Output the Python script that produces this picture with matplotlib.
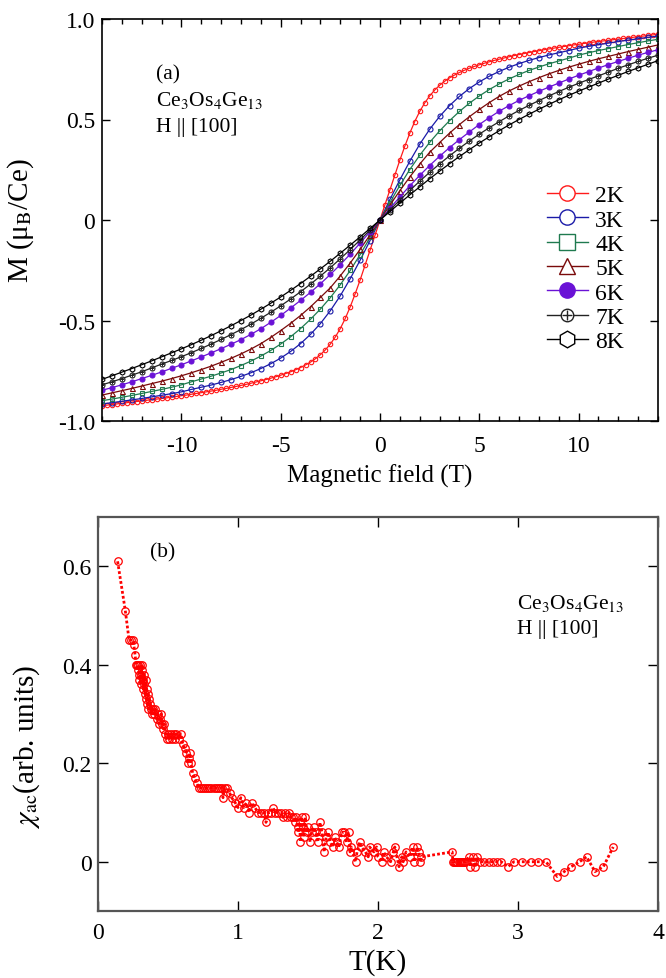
import matplotlib
matplotlib.use('Agg')
import matplotlib.pyplot as plt
from matplotlib.lines import Line2D
from matplotlib.ticker import MultipleLocator
import numpy as np

# ---------------- data: panel (a) M(H) ----------------
# field sweep -14 T .. 14 T (2K every 0.25 T, others every 0.5 T)
M_2K = [-0.924, -0.921, -0.918, -0.915, -0.912, -0.909, -0.906, -0.903, -0.900, -0.897,
        -0.894, -0.891, -0.888, -0.885, -0.881, -0.878, -0.874, -0.871, -0.867, -0.863,
        -0.859, -0.855, -0.851, -0.847, -0.842, -0.838, -0.833, -0.828, -0.823, -0.818,
        -0.812, -0.806, -0.800, -0.794, -0.787, -0.780, -0.772, -0.764, -0.755, -0.745,
        -0.734, -0.721, -0.707, -0.690, -0.670, -0.646, -0.617, -0.582, -0.540, -0.490,
        -0.432, -0.367, -0.298, -0.224, -0.150, -0.076,
        0.000, 0.076, 0.150, 0.224, 0.298, 0.367, 0.432, 0.490, 0.540, 0.582,
        0.617, 0.646, 0.670, 0.690, 0.707, 0.721, 0.734, 0.745, 0.755, 0.764,
        0.772, 0.780, 0.787, 0.794, 0.800, 0.806, 0.812, 0.818, 0.823, 0.828,
        0.833, 0.838, 0.842, 0.847, 0.851, 0.855, 0.859, 0.863, 0.867, 0.871,
        0.874, 0.878, 0.881, 0.885, 0.888, 0.891, 0.894, 0.897, 0.900, 0.903,
        0.906, 0.909, 0.912, 0.915, 0.918, 0.921, 0.924]
M_3K = [-0.915, -0.909, -0.902, -0.895, -0.888, -0.880, -0.872, -0.864, -0.855, -0.843,
        -0.832, -0.821, -0.808, -0.794, -0.778, -0.760, -0.739, -0.715, -0.687, -0.654,
        -0.615, -0.569, -0.515, -0.451, -0.377, -0.292, -0.200, -0.102,
        0.000, 0.102, 0.200, 0.292, 0.377, 0.451, 0.515, 0.569, 0.615, 0.654,
        0.687, 0.715, 0.739, 0.760, 0.778, 0.794, 0.808, 0.821, 0.832, 0.843,
        0.855, 0.864, 0.872, 0.880, 0.888, 0.895, 0.902, 0.909, 0.915]
M_4K = [-0.899, -0.891, -0.882, -0.873, -0.863, -0.853, -0.843, -0.832, -0.820, -0.805,
        -0.791, -0.777, -0.761, -0.744, -0.724, -0.702, -0.677, -0.649, -0.617, -0.581,
        -0.540, -0.494, -0.443, -0.386, -0.322, -0.251, -0.172, -0.087,
        0.000, 0.087, 0.172, 0.251, 0.322, 0.386, 0.443, 0.494, 0.540, 0.581,
        0.617, 0.649, 0.677, 0.702, 0.724, 0.744, 0.761, 0.777, 0.791, 0.805,
        0.820, 0.832, 0.843, 0.853, 0.863, 0.873, 0.882, 0.891, 0.899]
M_5K = [-0.871, -0.860, -0.849, -0.838, -0.826, -0.814, -0.802, -0.789, -0.775, -0.760,
        -0.744, -0.727, -0.708, -0.688, -0.666, -0.642, -0.615, -0.584, -0.550, -0.514,
        -0.475, -0.432, -0.385, -0.337, -0.278, -0.214, -0.146, -0.074,
        0.000, 0.074, 0.146, 0.214, 0.278, 0.337, 0.385, 0.432, 0.475, 0.514,
        0.550, 0.584, 0.615, 0.642, 0.666, 0.688, 0.708, 0.727, 0.744, 0.760,
        0.775, 0.789, 0.802, 0.814, 0.826, 0.838, 0.849, 0.860, 0.871]
M_6K = [-0.847, -0.834, -0.820, -0.805, -0.789, -0.773, -0.756, -0.738, -0.720, -0.701,
        -0.681, -0.661, -0.640, -0.618, -0.595, -0.569, -0.541, -0.509, -0.475, -0.438,
        -0.400, -0.360, -0.317, -0.271, -0.222, -0.170, -0.115, -0.058,
        0.000, 0.058, 0.115, 0.170, 0.222, 0.271, 0.317, 0.360, 0.400, 0.438,
        0.475, 0.509, 0.541, 0.569, 0.595, 0.618, 0.640, 0.661, 0.681, 0.701,
        0.720, 0.738, 0.756, 0.773, 0.789, 0.805, 0.820, 0.834, 0.847]
M_7K = [-0.820, -0.805, -0.789, -0.772, -0.755, -0.736, -0.717, -0.699, -0.680, -0.660,
        -0.639, -0.617, -0.594, -0.570, -0.545, -0.518, -0.489, -0.459, -0.427, -0.393,
        -0.357, -0.319, -0.279, -0.237, -0.193, -0.147, -0.099, -0.050,
        0.000, 0.050, 0.099, 0.147, 0.193, 0.237, 0.279, 0.319, 0.357, 0.393,
        0.427, 0.459, 0.489, 0.518, 0.545, 0.570, 0.594, 0.617, 0.639, 0.660,
        0.680, 0.699, 0.717, 0.736, 0.755, 0.772, 0.789, 0.805, 0.820]
M_8K = [-0.793, -0.775, -0.757, -0.739, -0.720, -0.701, -0.681, -0.661, -0.641, -0.620,
        -0.598, -0.575, -0.551, -0.526, -0.500, -0.473, -0.444, -0.414, -0.383, -0.350,
        -0.316, -0.280, -0.243, -0.205, -0.165, -0.125, -0.084, -0.042,
        0.000, 0.042, 0.084, 0.125, 0.165, 0.205, 0.243, 0.280, 0.316, 0.350,
        0.383, 0.414, 0.444, 0.473, 0.500, 0.526, 0.551, 0.575, 0.598, 0.620,
        0.641, 0.661, 0.681, 0.701, 0.720, 0.739, 0.757, 0.775, 0.793]

labels_a = ['2K', '3K', '4K', '5K', '6K', '7K', '8K']
xticks_a = [-10, -5, 0, 5, 10]
xticklabels_a = ['-10', '-5', '0', '5', '10']
yticks_a = [-1.0, -0.5, 0.0, 0.5, 1.0]
yticklabels_a = ['-1.0', '-0.5', '0', '0.5', '1.0']

# ---------------- data: panel (b) chi_ac(T) ----------------
T_ac = [0.140, 0.195, 0.222, 0.238, 0.248, 0.256, 0.265, 0.272, 0.278, 0.284,
        0.288, 0.292, 0.296, 0.300, 0.304, 0.308, 0.312, 0.316, 0.320, 0.324,
        0.328, 0.332, 0.336, 0.340, 0.344, 0.348, 0.352, 0.356, 0.360, 0.366,
        0.372, 0.378, 0.384, 0.392, 0.400, 0.410, 0.418, 0.426, 0.434, 0.442,
        0.450, 0.458, 0.466, 0.474, 0.482, 0.490, 0.500, 0.510, 0.520, 0.530,
        0.540, 0.550, 0.560, 0.575, 0.590, 0.605, 0.620, 0.632, 0.640, 0.648,
        0.656, 0.664, 0.676, 0.690, 0.705, 0.720, 0.735, 0.750, 0.765, 0.780,
        0.795, 0.810, 0.825, 0.840, 0.855, 0.870, 0.885, 0.893, 0.905, 0.920,
        0.940, 0.955, 0.980, 1.000, 1.020, 1.040, 1.060, 1.080, 1.100, 1.120,
        1.145, 1.165, 1.185, 1.200, 1.215, 1.235, 1.250, 1.265, 1.285, 1.305,
        1.320, 1.335, 1.350, 1.365, 1.380, 1.395, 1.405, 1.415, 1.425, 1.430,
        1.440, 1.445, 1.455, 1.465, 1.470, 1.480, 1.490, 1.500, 1.515, 1.525,
        1.540, 1.555, 1.570, 1.585, 1.600, 1.615, 1.630, 1.645, 1.660, 1.675,
        1.690, 1.705, 1.720, 1.740, 1.760, 1.775, 1.790, 1.800, 1.810, 1.840,
        1.850, 1.870, 1.880, 1.910, 1.930, 1.940, 1.970, 1.990, 2.000, 2.030,
        2.040, 2.060, 2.090, 2.110, 2.120, 2.150, 2.170, 2.180, 2.200, 2.230,
        2.250, 2.260, 2.280, 2.290, 2.300, 2.310, 2.530, 2.535, 2.543, 2.551,
        2.559, 2.567, 2.575, 2.583, 2.591, 2.599, 2.607, 2.615, 2.623, 2.650,
        2.660, 2.675, 2.685, 2.695, 2.705, 2.730, 2.760, 2.790, 2.820, 2.850,
        2.880, 2.930, 2.970, 3.030, 3.090, 3.140, 3.200, 3.280, 3.330, 3.380,
        3.440, 3.490, 3.550, 3.610, 3.680]
chi_ac = [0.61, 0.51, 0.45, 0.45, 0.45, 0.44, 0.42, 0.40, 0.40, 0.39,
          0.40, 0.38, 0.37, 0.40, 0.36, 0.38, 0.39, 0.40, 0.37, 0.35,
          0.38, 0.36, 0.34, 0.37, 0.33, 0.35, 0.32, 0.34, 0.31, 0.33,
          0.32, 0.31, 0.30, 0.31, 0.30, 0.31, 0.29, 0.30, 0.28, 0.29,
          0.30, 0.28, 0.27, 0.28, 0.26, 0.25, 0.26, 0.25, 0.26, 0.25,
          0.26, 0.25, 0.26, 0.25, 0.26, 0.24, 0.23, 0.22, 0.20, 0.21,
          0.22, 0.20, 0.18, 0.17, 0.16, 0.15, 0.15, 0.15, 0.15, 0.15,
          0.15, 0.15, 0.15, 0.15, 0.15, 0.15, 0.15, 0.13, 0.15, 0.15,
          0.14, 0.13, 0.12, 0.11, 0.13, 0.11, 0.12, 0.10, 0.12, 0.11,
          0.10, 0.10, 0.10, 0.08, 0.10, 0.10, 0.11, 0.10, 0.10, 0.10,
          0.09, 0.10, 0.09, 0.10, 0.09, 0.09, 0.08, 0.09, 0.07, 0.06,
          0.08, 0.04, 0.09, 0.07, 0.05, 0.09, 0.06, 0.07, 0.04, 0.06,
          0.07, 0.06, 0.04, 0.08, 0.06, 0.02, 0.05, 0.06, 0.04, 0.03,
          0.05, 0.04, 0.03, 0.06, 0.06, 0.04, 0.06, 0.02, 0.03, 0.00,
          0.02, 0.04, 0.03, 0.02, 0.01, 0.03, 0.02, 0.03, 0.01, 0.00,
          0.02, 0.01, 0.00, 0.02, 0.03, -0.01, 0.01, 0.00, 0.02, 0.01,
          0.03, 0.00, 0.03, 0.02, 0.00, 0.01, 0.02, 0.00, 0.00, 0.00,
          0.00, 0.00, 0.00, 0.00, 0.00, 0.00, 0.00, 0.00, 0.00, 0.01,
          -0.01, 0.01, 0.00, -0.01, 0.01, 0.00, 0.00, 0.00, 0.00, 0.00,
          0.00, -0.01, 0.00, 0.00, 0.00, 0.00, 0.00, -0.03, -0.02, -0.01,
          0.00, 0.01, -0.02, -0.01, 0.03]

xticks_b = [0, 1, 2, 3, 4]
yticks_b = [0.0, 0.2, 0.4, 0.6]
yticklabels_b = ['0', '0.2', '0.4', '0.6']

# ---------------- style ----------------
plt.rcParams['font.family'] = ['Liberation Serif', 'DejaVu Serif']
plt.rcParams['mathtext.fontset'] = 'stix'

fig = plt.figure(figsize=(6.66, 9.79), dpi=100)
ax1 = fig.add_axes([102 / 666, 1 - 422 / 979, 556 / 666, 402 / 979])
ax2 = fig.add_axes([98 / 666, 1 - 912 / 979, 560 / 666, 394 / 979])

styles = [
    (M_2K, '#ff1a1a', 'o', 'none', 3.2, 11),
    (M_3K, '#1a1aa8', 'o', 'none', 3.6, 11),
    (M_4K, '#1f7a4f', 's', 'none', 3.4, 11),
    (M_5K, '#7a0a0a', '^', 'none', 3.6, 11),
    (M_6K, '#6a12d6', 'o', '#6a12d6', 3.6, 11),
    (M_7K, '#222222', 'o', 'none', 3.6, 9),
    (M_8K, '#000000', 'h', 'none', 3.8, 12),
]

for M, c, mk, mfc, ms, lms in styles:
    H = np.linspace(-14, 14, len(M))
    ax1.plot(H, M, color=c, lw=0.9, marker=mk, ms=ms, mfc=mfc, mec=c, mew=0.8)
    if M is M_7K:
        ax1.plot(H, M, ls='none', marker='+', ms=3.0, color=c, mew=0.7)

# legend with large symbols
leg_handles = []
for (M, c, mk, mfc, ms, lms), lab in zip(styles, labels_a):
    h = Line2D([], [], color=c, lw=1.0, marker=mk, ms=lms,
               mfc='white' if mfc == 'none' else mfc, mec=c, mew=1.0)
    if lab == '7K':
        h = (h, Line2D([], [], ls='none', marker='+', ms=6.5, color=c, mew=1.0))
    leg_handles.append(h)
ax1.legend(leg_handles, labels_a, loc='upper left', bbox_to_anchor=(0.800, 0.588),
           frameon=False, fontsize=17, handlelength=1.75, handletextpad=0.3,
           labelspacing=0.12, borderpad=0, borderaxespad=0)

ax1.set_xlim(-14, 14)
ax1.set_ylim(-1.0, 1.0)
ax1.set_xticks(xticks_a)
ax1.set_xticklabels(xticklabels_a)
ax1.xaxis.set_minor_locator(MultipleLocator(1))
ax1.set_yticks(yticks_a)
ax1.set_yticklabels(yticklabels_a)
ax1.tick_params(which='both', direction='in', top=True, right=True, labelsize=17, width=1.0)
ax1.tick_params(axis='x', which='major', length=6, pad=10)
ax1.tick_params(axis='y', which='major', length=6, pad=5)
ax1.tick_params(which='minor', length=3.5)
for s in ax1.spines.values():
    s.set_linewidth(1.2)

ax1.set_xlabel('Magnetic field (T)', fontsize=18)
ax1.xaxis.set_label_coords(0.5, -0.107)
ax1.set_ylabel('M (μ$_{\\rm B}$/Ce)', fontsize=21)
ax1.yaxis.set_label_coords(-0.118, 0.5)

ax1.text(0.097, 0.863, '(a)', transform=ax1.transAxes, fontsize=15.5, va='center', ha='left')
ax1.text(0.097, 0.800, r'Ce$_3$Os$_4$Ge$_{13}$', transform=ax1.transAxes, fontsize=15.5,
         va='center', ha='left')
ax1.text(0.097, 0.733, 'H || [100]', transform=ax1.transAxes, fontsize=15.5, va='center', ha='left')

# ---------------- panel (b) ----------------
ax2.plot(T_ac, chi_ac, color='red', ls=(0, (1, 0.8)), lw=2.0, marker='o', ms=5.4,
         mfc='none', mec='red', mew=0.9)
ax2.set_xlim(0, 4)
ax2.set_ylim(-0.1, 0.7)
ax2.set_xticks(xticks_b)
ax2.set_xticklabels([str(v) for v in xticks_b])
ax2.set_yticks(yticks_b)
ax2.set_yticklabels(yticklabels_b)
ax2.tick_params(which='both', direction='in', top=True, right=True, labelsize=17,
                length=7, width=1.0)
ax2.tick_params(axis='x', pad=8)
ax2.tick_params(axis='y', pad=4.5)
for s in ax2.spines.values():
    s.set_linewidth(1.6)
    s.set_color('#555555')

ax2.set_xlabel('T(K)', fontsize=21)
ax2.xaxis.set_label_coords(0.5, -0.094)
ax2.set_ylabel(r'$\chi_{\rm ac}$(arb. units)', fontsize=21)
ax2.yaxis.set_label_coords(-0.100, 0.42)

ax2.text(0.093, 0.911, '(b)', transform=ax2.transAxes, fontsize=15.5, va='center', ha='left')
ax2.text(0.748, 0.784, r'Ce$_3$Os$_4$Ge$_{13}$', transform=ax2.transAxes, fontsize=15.5,
         va='center', ha='left')
ax2.text(0.748, 0.716, 'H || [100]', transform=ax2.transAxes, fontsize=15.5, va='center', ha='left')

fig.savefig('out.png', dpi=100)
